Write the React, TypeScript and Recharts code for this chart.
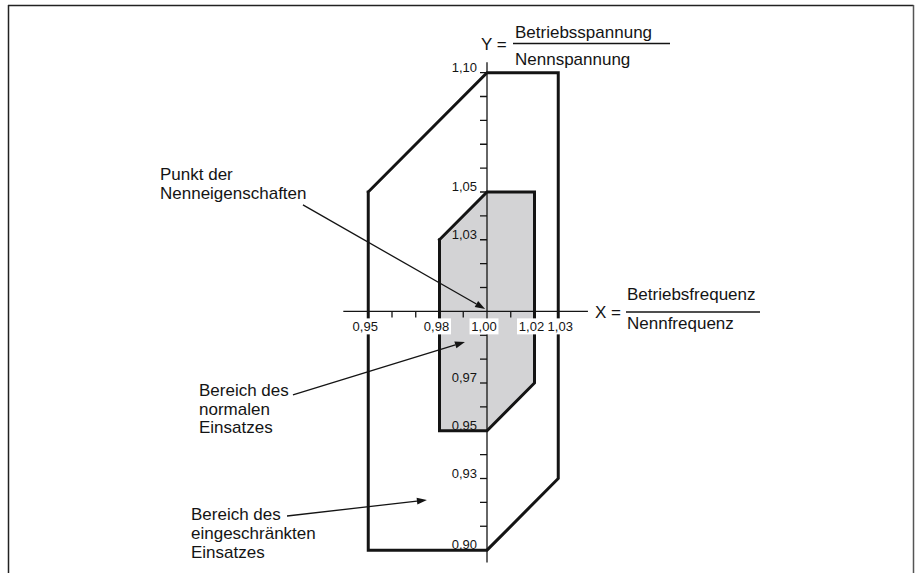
import { ComposedChart, XAxis, YAxis, Scatter } from 'recharts'

// Betriebsbereiche (X = f/fN, Y = U/UN)
const outerX = [0.95, 1.0, 1.03, 1.03, 1.0, 0.95, 0.95]
const outerY = [1.05, 1.1, 1.1, 0.93, 0.9, 0.9, 1.05]
const innerX = [0.98, 1.0, 1.02, 1.02, 1.0, 0.98, 0.98]
const innerY = [1.03, 1.05, 1.05, 0.97, 0.95, 0.95, 1.03]

const xTickValues = [0.95, 0.96, 0.97, 0.98, 0.99, 1.01, 1.02, 1.03]
const xLabelValues = [0.95, 0.98, 1.0, 1.02, 1.03]
const xLabelTexts = ['0,95', '0,98', '1,00', '1,02', '1,03']

const yTickValues = [
  0.9, 0.91, 0.92, 0.93, 0.94, 0.95, 0.96, 0.97, 0.98, 0.99,
  1.01, 1.02, 1.03, 1.04, 1.05, 1.06, 1.07, 1.08, 1.09, 1.1,
]
const yLabelValues = [1.1, 1.05, 1.03, 0.97, 0.95, 0.93, 0.9]
const yLabelTexts = ['1,10', '1,05', '1,03', '0,97', '0,95', '0,93', '0,90']

// Achsenenden
const xAxisEnds = [0.9395, 1.0425]
const yAxisEnds = [0.8948, 1.1043]

// Hinweispfeile: Spitze (x, y) und Start beim Text (fx, fy)
const arrowTips = [
  { x: 0.9992, y: 1.001, fx: 0.9225, fy: 1.0446 },
  { x: 0.9907, y: 0.9872, fx: 0.9183, fy: 0.965 },
  { x: 0.9747, y: 0.921, fx: 0.9158, fy: 0.9143 },
]

const W = 915
const H = 573
const X_DOMAIN = [0.8, 1.18]
const Y_DOMAIN = [0.89, 1.13]
const MARGIN = { top: 1, right: 0.5, bottom: 0, left: 12 }
const CHART_H = 574
const PX_X = (W - MARGIN.left - MARGIN.right) / (X_DOMAIN[1] - X_DOMAIN[0])
const PX_Y = (CHART_H - MARGIN.top - MARGIN.bottom) / (Y_DOMAIN[1] - Y_DOMAIN[0])

const FONT = '"Liberation Sans", Arial, Helvetica, sans-serif'
const INK = '#141414'

const zip = (xs: number[], ys: number[]) => xs.map((x, i) => ({ x, y: ys[i] }))

const NoDot = () => <g />

const XTick = ({ cx, cy }: any) => (
  <line x1={cx} y1={cy} x2={cx} y2={cy + 6} stroke={INK} strokeWidth={1.3} />
)

const YTick = ({ cx, cy }: any) => (
  <line x1={cx - 7} y1={cy} x2={cx} y2={cy} stroke={INK} strokeWidth={1.3} />
)

const XLabel = ({ cx, cy, payload }: any) => {
  const dx = payload.label === '1,03' ? 2 : -3
  return (
    <g>
      <rect x={cx + dx - 14.5} y={cy + 7} width={29} height={16} fill="#fff" />
      <text x={cx + dx} y={cy + 20} textAnchor="middle" fontSize={13} fontFamily={FONT} fill={INK}>
        {payload.label}
      </text>
    </g>
  )
}

const YLabel = ({ cx, cy, payload }: any) => (
  <text x={cx - 10} y={cy - 1} textAnchor="end" fontSize={13} fontFamily={FONT} fill={INK}>
    {payload.label}
  </text>
)

const Arrow = ({ cx, cy, payload }: any) => {
  const x1 = cx + (payload.fx - payload.x) * PX_X
  const y1 = cy - (payload.fy - payload.y) * PX_Y
  const ang = Math.atan2(cy - y1, cx - x1)
  const len = 10
  const half = 3.5
  const bx = cx - Math.cos(ang) * len
  const by = cy - Math.sin(ang) * len
  const px = -Math.sin(ang) * half
  const py = Math.cos(ang) * half
  return (
    <g>
      <line x1={x1} y1={y1} x2={bx} y2={by} stroke={INK} strokeWidth={1.3} />
      <polygon points={`${cx},${cy} ${bx + px},${by + py} ${bx - px},${by - py}`} fill={INK} />
    </g>
  )
}

const textStyle = { fontFamily: FONT, fontSize: 17, fill: INK }
const axisLine = { stroke: INK, strokeWidth: 1.3, fill: 'none' }

export default function App() {
  const outer = zip(outerX, outerY)
  const inner = zip(innerX, innerY)
  const xAxisData = xAxisEnds.map(x => ({ x, y: 1 }))
  const yAxisData = yAxisEnds.map(y => ({ x: 1, y }))
  const xTicks = xTickValues.map(x => ({ x, y: 1 }))
  const yTicks = yTickValues.map(y => ({ x: 1, y }))
  const xLabels = xLabelValues.map((x, i) => ({ x, y: 1, label: xLabelTexts[i] }))
  const yLabels = yLabelValues.map((y, i) => ({ x: 1, y, label: yLabelTexts[i] }))

  return (
    <div style={{ position: 'absolute', left: 0, top: 0, width: W, height: H, overflow: 'hidden', background: '#fff' }}>
      <ComposedChart width={W} height={CHART_H} margin={MARGIN}>
        <XAxis type="number" dataKey="x" domain={X_DOMAIN} hide allowDataOverflow />
        <YAxis type="number" dataKey="y" domain={Y_DOMAIN} hide allowDataOverflow />

        <Scatter
          data={outer}
          isAnimationActive={false}
          shape={NoDot}
          fill={INK}
          line={{ stroke: INK, strokeWidth: 3, fill: 'none', strokeLinejoin: 'miter', strokeLinecap: 'square' }}
        />
        <Scatter
          data={inner}
          isAnimationActive={false}
          shape={NoDot}
          fill={INK}
          line={{ stroke: INK, strokeWidth: 3, fill: '#d3d3d5', strokeLinejoin: 'miter', strokeLinecap: 'square' }}
        />

        <Scatter data={xAxisData} isAnimationActive={false} shape={NoDot} fill={INK} line={axisLine} />
        <Scatter data={yAxisData} isAnimationActive={false} shape={NoDot} fill={INK} line={axisLine} />

        <Scatter data={xTicks} isAnimationActive={false} shape={XTick} />
        <Scatter data={yTicks} isAnimationActive={false} shape={YTick} />
        <Scatter data={xLabels} isAnimationActive={false} shape={XLabel} />
        <Scatter data={yLabels} isAnimationActive={false} shape={YLabel} />
        <Scatter data={arrowTips} isAnimationActive={false} shape={Arrow} />
      </ComposedChart>

      <svg width={W} height={H} style={{ position: 'absolute', left: 0, top: 0, pointerEvents: 'none' }}>
        {/* Rahmen */}
        <line x1={8} y1={5.5} x2={913.5} y2={5.5} stroke="#222" strokeWidth={1.5} />
        <line x1={8.5} y1={5} x2={8.5} y2={H} stroke="#222" strokeWidth={1.5} />
        <line x1={913.5} y1={5} x2={913.5} y2={H} stroke="#555" strokeWidth={1.5} />

        {/* Y = Betriebsspannung / Nennspannung */}
        <text x={481} y={50} {...textStyle}>Y =</text>
        <text x={515} y={38} {...textStyle}>Betriebsspannung</text>
        <line x1={513} y1={43.5} x2={670} y2={43.5} stroke={INK} strokeWidth={1.3} />
        <text x={515} y={65} {...textStyle}>Nennspannung</text>

        {/* X = Betriebsfrequenz / Nennfrequenz */}
        <text x={595} y={318} {...textStyle}>X =</text>
        <text x={627} y={300} {...textStyle}>Betriebsfrequenz</text>
        <line x1={626} y1={312} x2={760} y2={312} stroke={INK} strokeWidth={1.3} />
        <text x={627} y={329} {...textStyle}>Nennfrequenz</text>

        <text x={160} y={180} {...textStyle}>Punkt der</text>
        <text x={160} y={199} {...textStyle}>Nenneigenschaften</text>

        <text x={199} y={396} {...textStyle}>Bereich des</text>
        <text x={199} y={414.5} {...textStyle}>normalen</text>
        <text x={199} y={433} {...textStyle}>Einsatzes</text>

        <text x={191} y={520} {...textStyle}>Bereich des</text>
        <text x={191} y={539} {...textStyle}>eingeschränkten</text>
        <text x={191} y={558} {...textStyle}>Einsatzes</text>
      </svg>
    </div>
  )
}
